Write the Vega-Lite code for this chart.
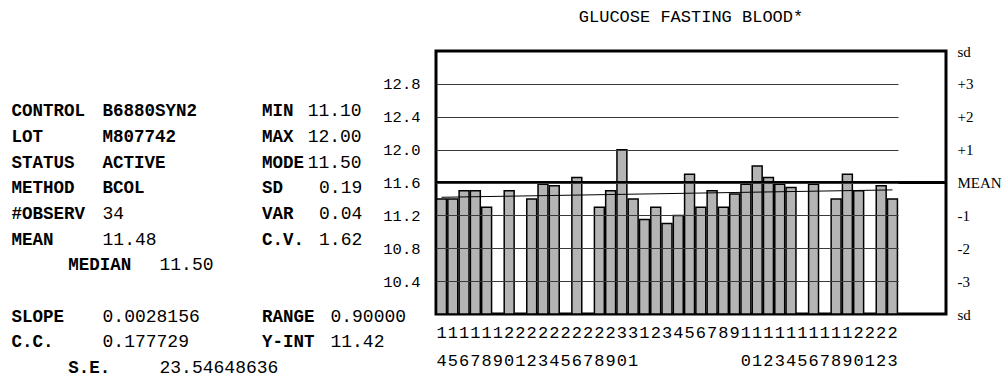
{
  "$schema": "https://vega.github.io/schema/vega-lite/v6.json",
  "padding": {"top": 6, "left": 0, "right": 0, "bottom": 0},
  "background": "white",
  "bounds": "flush",
  "spacing": 60,
  "config": {
    "font": "Liberation Mono",
    "view": {"stroke": null}
  },
  "hconcat": [
    {
      "width": 376,
      "height": 263,
      "data": {
        "values": [
          {"line": 0, "col": 0, "text": "CONTROL"},
          {"line": 0, "col": 8, "text": "B6880SYN2"},
          {"line": 0, "col": 22, "text": "MIN"},
          {"line": 0, "col": 26, "text": "11.10"},
          {"line": 1, "col": 0, "text": "LOT"},
          {"line": 1, "col": 8, "text": "M807742"},
          {"line": 1, "col": 22, "text": "MAX"},
          {"line": 1, "col": 26, "text": "12.00"},
          {"line": 2, "col": 0, "text": "STATUS"},
          {"line": 2, "col": 8, "text": "ACTIVE"},
          {"line": 2, "col": 22, "text": "MODE"},
          {"line": 2, "col": 26, "text": "11.50"},
          {"line": 3, "col": 0, "text": "METHOD"},
          {"line": 3, "col": 8, "text": "BCOL"},
          {"line": 3, "col": 22, "text": "SD"},
          {"line": 3, "col": 27, "text": "0.19"},
          {"line": 4, "col": 0, "text": "#OBSERV"},
          {"line": 4, "col": 8, "text": "34"},
          {"line": 4, "col": 22, "text": "VAR"},
          {"line": 4, "col": 27, "text": "0.04"},
          {"line": 5, "col": 0, "text": "MEAN"},
          {"line": 5, "col": 8, "text": "11.48"},
          {"line": 5, "col": 22, "text": "C.V."},
          {"line": 5, "col": 27, "text": "1.62"},
          {"line": 6, "col": 5, "text": "MEDIAN"},
          {"line": 6, "col": 13, "text": "11.50"},
          {"line": 8, "col": 0, "text": "SLOPE"},
          {"line": 8, "col": 8, "text": "0.0028156"},
          {"line": 8, "col": 22, "text": "RANGE"},
          {"line": 8, "col": 28, "text": "0.90000"},
          {"line": 9, "col": 0, "text": "C.C."},
          {"line": 9, "col": 8, "text": "0.177729"},
          {"line": 9, "col": 22, "text": "Y-INT"},
          {"line": 9, "col": 28, "text": "11.42"},
          {"line": 10, "col": 5, "text": "S.E."},
          {"line": 10, "col": 13, "text": "23.54648636"}
        ]
      },
      "encoding": {
        "x": {"field": "col", "type": "quantitative", "scale": {"domain": [-1, 32], "nice": false, "zero": false}, "axis": null},
        "y": {"field": "line", "type": "quantitative", "scale": {"domain": [-2.35, 7.9], "nice": false, "zero": false, "reverse": true}, "axis": null},
        "text": {"field": "text"}
      },
      "layer": [
        {
          "transform": [{"filter": "isNaN(toNumber(datum.text))"}],
          "mark": {"type": "text", "align": "left", "baseline": "middle", "font": "Liberation Mono", "fontSize": 17.5, "fontWeight": "bold", "color": "#000"}
        },
        {
          "transform": [{"filter": "!isNaN(toNumber(datum.text))"}],
          "mark": {"type": "text", "align": "left", "baseline": "middle", "font": "Liberation Mono", "fontSize": 18, "fontWeight": "normal", "color": "#000"}
        }
      ]
    },
    {
      "width": 510,
      "height": 263,
      "view": {"stroke": "#000", "strokeWidth": 3},
      "title": {
        "text": "GLUCOSE FASTING BLOOD*",
        "frame": "group",
        "anchor": "middle",
        "font": "Liberation Mono",
        "fontSize": 17,
        "fontWeight": "normal",
        "color": "#000",
        "offset": 18.5
      },
      "resolve": {"axis": {"y": "independent"}},
      "layer": [
        {
          "data": {
            "values": [
              {"date": "10/14", "glucose": 11.4},
              {"date": "10/15", "glucose": 11.4},
              {"date": "10/16", "glucose": 11.5},
              {"date": "10/17", "glucose": 11.5},
              {"date": "10/18", "glucose": 11.3},
              {"date": "10/20", "glucose": 11.5},
              {"date": "10/22", "glucose": 11.4},
              {"date": "10/23", "glucose": 11.58},
              {"date": "10/24", "glucose": 11.56},
              {"date": "10/26", "glucose": 11.66},
              {"date": "10/28", "glucose": 11.3},
              {"date": "10/29", "glucose": 11.5},
              {"date": "10/30", "glucose": 12.0},
              {"date": "10/31", "glucose": 11.4},
              {"date": "11/1", "glucose": 11.15},
              {"date": "11/2", "glucose": 11.3},
              {"date": "11/3", "glucose": 11.1},
              {"date": "11/4", "glucose": 11.2},
              {"date": "11/5", "glucose": 11.7},
              {"date": "11/6", "glucose": 11.3},
              {"date": "11/7", "glucose": 11.5},
              {"date": "11/8", "glucose": 11.3},
              {"date": "11/9", "glucose": 11.46},
              {"date": "11/10", "glucose": 11.58},
              {"date": "11/11", "glucose": 11.8},
              {"date": "11/12", "glucose": 11.66},
              {"date": "11/13", "glucose": 11.58},
              {"date": "11/14", "glucose": 11.54},
              {"date": "11/16", "glucose": 11.58},
              {"date": "11/18", "glucose": 11.4},
              {"date": "11/19", "glucose": 11.7},
              {"date": "11/20", "glucose": 11.5},
              {"date": "11/22", "glucose": 11.56},
              {"date": "11/23", "glucose": 11.4}
            ]
          },
          "mark": {"type": "bar", "fill": "#b4b4b4", "stroke": "#000", "strokeWidth": 1.5},
          "encoding": {
            "x": {
              "field": "date",
              "type": "nominal",
              "sort": null,
              "scale": {
                "domain": ["10/14", "10/15", "10/16", "10/17", "10/18", "10/19", "10/20", "10/21", "10/22", "10/23", "10/24", "10/25", "10/26", "10/27", "10/28", "10/29", "10/30", "10/31", "11/1", "11/2", "11/3", "11/4", "11/5", "11/6", "11/7", "11/8", "11/9", "11/10", "11/11", "11/12", "11/13", "11/14", "11/15", "11/16", "11/17", "11/18", "11/19", "11/20", "11/21", "11/22", "11/23"],
                "range": [0, 462],
                "paddingInner": 0.12,
                "paddingOuter": 0.05
              },
              "axis": {
                "title": null,
                "orient": "bottom",
                "domain": false,
                "ticks": false,
                "labelAngle": 0,
                "labelOverlap": false,
                "labelPadding": 10,
                "labelFont": "Liberation Mono",
                "labelFontSize": 17,
                "labelColor": "#000",
                "labelLineHeight": 28,
                "labelExpr": "split(split(datum.value, '/')[1], '')"
              }
            },
            "y": {
              "field": "glucose",
              "type": "quantitative",
              "scale": {"domain": [10, 13.2], "nice": false, "zero": false},
              "axis": {
                "title": null,
                "orient": "left",
                "values": [10.4, 10.8, 11.2, 11.6, 12.0, 12.4, 12.8],
                "format": ".1f",
                "domain": false,
                "ticks": false,
                "grid": true,
                "gridColor": "#3a3a3a",
                "gridWidth": 1.1,
                "zindex": 1,
                "labelPadding": 16,
                "labelFont": "Liberation Mono",
                "labelFontSize": 15.5,
                "labelColor": "#000"
              }
            },
            "y2": {"datum": 10}
          }
        },
        {
          "data": {
            "values": [
              {"date": "10/14", "fit": 11.42},
              {"date": "11/23", "fit": 11.51}
            ]
          },
          "mark": {"type": "line", "color": "#000", "strokeWidth": 1},
          "encoding": {
            "x": {"field": "date", "type": "nominal", "sort": null},
            "y": {"field": "fit", "type": "quantitative", "axis": null}
          }
        },
        {
          "data": {"values": [{"level": 11.6}]},
          "mark": {"type": "rule", "color": "#000", "strokeWidth": 3},
          "encoding": {
            "y": {
              "field": "level",
              "type": "quantitative",
              "axis": {
                "title": null,
                "orient": "right",
                "values": [10, 10.4, 10.8, 11.2, 11.6, 12.0, 12.4, 12.8, 13.2],
                "labelExpr": "['sd', '-3', '-2', '-1', 'MEAN', '+1', '+2', '+3', 'sd'][round((datum.value - 10) / 0.4)]",
                "domain": false,
                "ticks": false,
                "grid": false,
                "labelPadding": 11,
                "labelFont": "Liberation Serif",
                "labelFontSize": 15,
                "labelColor": "#000"
              }
            }
          }
        }
      ]
    }
  ]
}
